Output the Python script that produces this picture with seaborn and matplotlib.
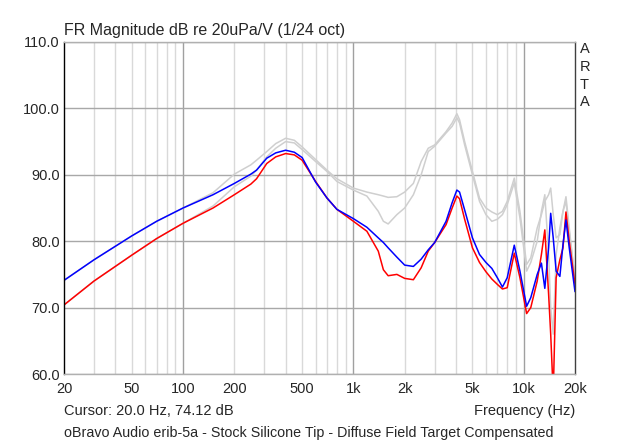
import numpy as np
import pandas as pd
import matplotlib
matplotlib.use("Agg")
import matplotlib.pyplot as plt
import seaborn as sns

freq_hz = [20, 30, 50, 70, 100, 150, 200, 250, 270, 310, 350, 400, 450, 500, 600, 700,
           800, 1000, 1200, 1400, 1500, 1600, 1800, 2000, 2250, 2500, 2750, 3000, 3500,
           3800, 4050, 4200, 4500, 5000, 5500, 6000, 6500, 7000, 7500, 8000, 8800, 9500,
           10400, 11000, 12000, 12700, 13300, 14000, 14400, 14900, 15500, 16300, 17000,
           17700, 18500, 20000]

blue_db = [74.1, 77.2, 80.8, 83.0, 85.0, 87.0, 88.7, 90.1, 90.7, 92.5, 93.3, 93.7, 93.4, 92.6,
           88.9, 86.5, 84.8, 83.4, 82.1, 80.5, 79.8, 79.0, 77.6, 76.4, 76.2, 77.3, 78.7, 79.8,
           83.0, 85.8, 87.7, 87.4, 84.7, 80.5, 78.0, 76.8, 75.9, 74.5, 73.1, 74.5, 79.4, 75.5,
           70.2, 71.5, 75.0, 76.7, 72.9, 79.0, 84.2, 80.5, 75.5, 74.7, 79.5, 83.2, 79.0, 72.4]

red_db = [70.4, 74.0, 77.9, 80.4, 82.7, 85.0, 87.0, 88.6, 89.4, 91.7, 92.7, 93.2, 93.0, 92.2,
          89.0, 86.5, 84.8, 83.0, 81.5, 78.5, 75.7, 74.8, 75.0, 74.4, 74.2, 76.0, 78.5, 79.8,
          82.5, 85.0, 86.8, 86.4, 83.3, 79.0, 76.8, 75.4, 74.3, 73.5, 72.8, 73.0, 78.2, 74.5,
          69.1, 70.0, 74.0, 78.0, 81.7, 72.0, 66.0, 57.0, 74.5, 77.2, 79.0, 84.4, 80.0, 73.5]

gray_upper_db = [74.1, 77.2, 80.8, 83.0, 85.0, 87.3, 90.1, 91.5, 92.2, 93.5, 94.7, 95.5, 95.2,
                 94.2, 92.3, 90.7, 89.4, 88.0, 87.4, 87.0, 86.8, 86.6, 86.7, 87.4, 88.7, 92.0,
                 94.0, 94.5, 96.5, 97.8, 99.2, 98.3, 95.0, 90.5, 86.5, 85.0, 84.4, 84.0, 84.5,
                 86.0, 89.5, 84.5, 76.5, 77.5, 82.0, 84.0, 86.0, 87.0, 88.0, 84.0, 80.5, 81.0,
                 84.5, 86.7, 82.0, 74.0]

gray_lower_db = [70.4, 74.0, 77.9, 80.4, 82.7, 85.3, 88.2, 89.8, 90.7, 92.7, 94.0, 95.0, 94.8,
                 93.8, 92.0, 90.5, 89.0, 87.7, 86.8, 84.5, 83.0, 82.6, 84.0, 85.0, 87.0, 90.0,
                 93.5, 94.3, 96.3, 97.3, 98.6, 97.8, 94.5, 90.0, 86.0, 84.0, 83.0, 83.3, 84.0,
                 85.5, 88.8, 83.5, 75.5, 76.8, 80.0, 84.5, 87.0, 78.0, 70.0, 66.0, 78.0, 82.0,
                 84.5, 86.0, 81.5, 74.5]

series_names = ["gray_upper", "gray_lower", "red", "blue"]
series_colors = {"gray_upper": "#cfcfcf", "gray_lower": "#cfcfcf", "red": "#ff0000", "blue": "#0000ff"}

x_tick_values = [20, 50, 100, 200, 500, 1000, 2000, 5000, 10000, 20000]
x_tick_labels = ["20", "50", "100", "200", "500", "1k", "2k", "5k", "10k", "20k"]
y_tick_values = [60, 70, 80, 90, 100, 110]
y_tick_labels = ["60.0", "70.0", "80.0", "90.0", "100.0", "110.0"]

title_text = "FR Magnitude dB re 20uPa/V (1/24 oct)"
cursor_text = "Cursor: 20.0 Hz, 74.12 dB"
xlabel_text = "Frequency (Hz)"
caption_text = "oBravo Audio erib-5a - Stock Silicone Tip - Diffuse Field Target Compensated"

rows = []
for name, vals in zip(series_names, [gray_upper_db, gray_lower_db, red_db, blue_db]):
    for f, v in zip(freq_hz, vals):
        rows.append({"freq": f, "db": v, "series": name})
df = pd.DataFrame(rows)

sns.set_style("white")
plt.rcParams["font.family"] = ["Liberation Sans", "DejaVu Sans"]

fig = plt.figure(figsize=(6.4, 4.44), dpi=100)
ax = fig.add_axes([64 / 640, 1 - 374 / 444, 511 / 640, 332 / 444])

# grid
minor_freqs = []
for dec in [10, 100, 1000, 10000]:
    for m in range(2, 10):
        f = dec * m
        if 20 < f < 20000:
            minor_freqs.append(f)
for f in minor_freqs:
    ax.axvline(f, color="#d9d9d9", lw=1.0, zorder=0)
for f in [100, 1000, 10000]:
    ax.axvline(f, color="#a0a0a0", lw=1.0, zorder=0)
for y in y_tick_values:
    ax.axhline(y, color="#a8a8a8", lw=1.0, zorder=0)

sns.lineplot(data=df, x="freq", y="db", hue="series", hue_order=series_names,
             palette=series_colors, estimator=None, sort=False, lw=1.1, ax=ax,
             legend=False)

ax.set_xscale("log")
ax.set_xlim(20, 20000)
ax.set_ylim(60, 110)

ax.set_xticks(x_tick_values)
ax.set_xticklabels(x_tick_labels)
ax.set_xticks(minor_freqs, minor=True)
ax.xaxis.set_minor_formatter(matplotlib.ticker.NullFormatter())
ax.set_yticks(y_tick_values)
ax.set_yticklabels(y_tick_labels)
ax.set_yticks(list(range(60, 111, 2)), minor=True)

ax.tick_params(axis="x", which="both", direction="in", length=4, width=0.8, color="black",
               labelsize=10.5, pad=6)
ax.tick_params(axis="y", which="both", direction="in", length=4, width=0.8, color="black",
               labelsize=10.5, pad=3)
ax.set_xlabel("")
ax.set_ylabel("")

for s in ["top", "bottom"]:
    ax.spines[s].set_color("#b0b0b0")
    ax.spines[s].set_linewidth(1.0)
ax.spines["left"].set_color("black")
ax.spines["left"].set_linewidth(1.0)
ax.spines["right"].set_color("#404040")
ax.spines["right"].set_linewidth(1.0)

fig.text(64 / 640, 1 - 30 / 444, title_text, fontsize=11.5, ha="left", va="center")
fig.text(64 / 640, 1 - 411 / 444, cursor_text, fontsize=10.5, ha="left", va="center")
fig.text(575 / 640, 1 - 411 / 444, xlabel_text, fontsize=10.5, ha="right", va="center")
fig.text(64 / 640, 1 - 433 / 444, caption_text, fontsize=10.3, ha="left", va="center")
for letter, yy in zip("ARTA", [49, 67, 85, 102]):
    fig.text(580 / 640, 1 - yy / 444, letter, fontsize=10.5, ha="left", va="center")

fig.savefig("out.png", dpi=100)
